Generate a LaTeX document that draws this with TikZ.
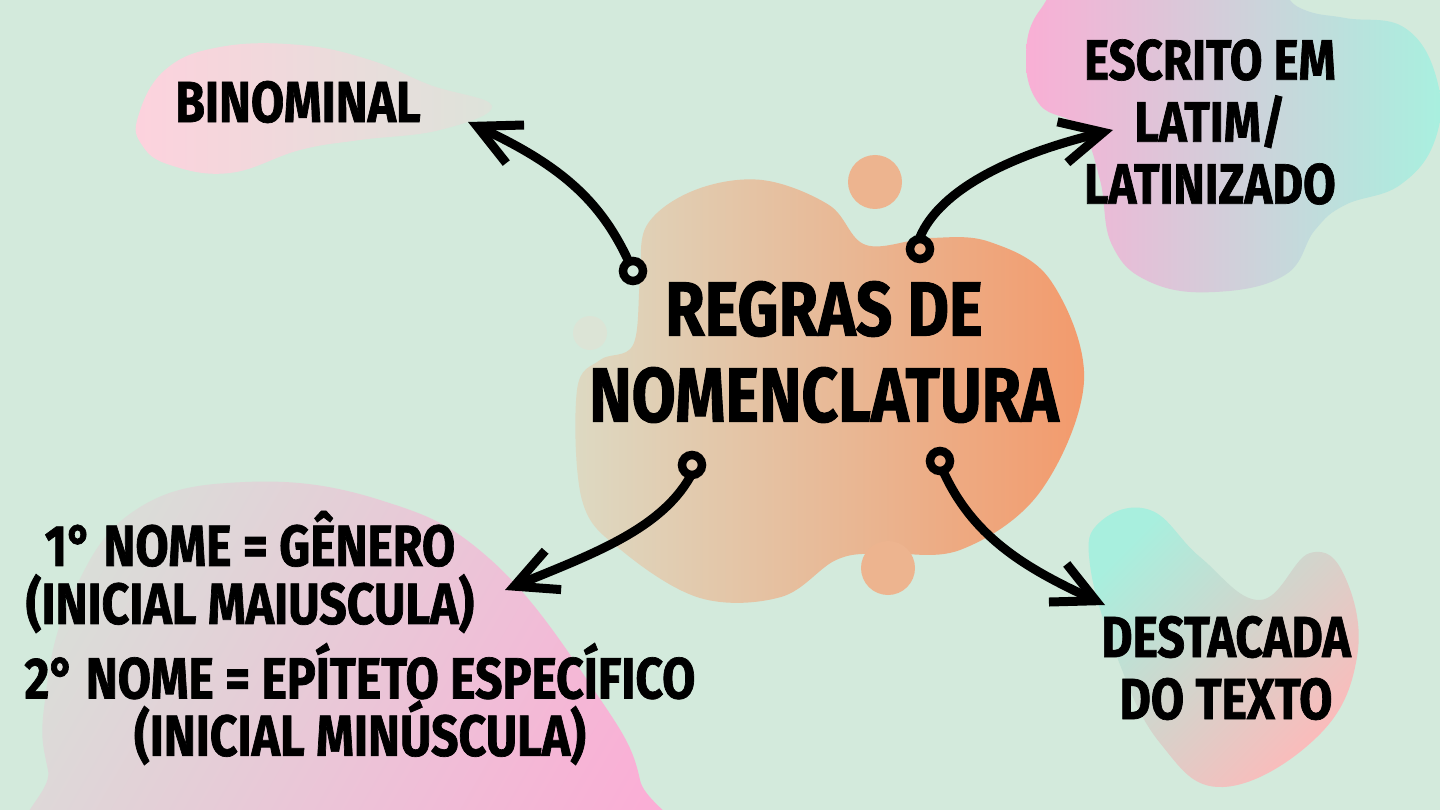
\documentclass[tikz,border=0pt]{standalone}
\usepackage{fontspec}
\newfontfamily\hand[FakeStretch=0.83,FakeBold=1.2]{Fira Sans}
\usetikzlibrary{arrows.meta}
\definecolor{bg}{HTML}{D3EADC}
\definecolor{cleft}{HTML}{DDD9C2}
\definecolor{cright}{HTML}{F39A6C}
\definecolor{peach}{HTML}{EDB48F}
\definecolor{faint}{HTML}{DCE4D6}
\definecolor{pinkA}{HTML}{FDD2DD}
\definecolor{grayA}{HTML}{DDE3DA}
\definecolor{pinkB}{HTML}{F9AFD5}
\definecolor{aquaB}{HTML}{A8F0DF}
\definecolor{aquaC}{HTML}{A8EFDE}
\definecolor{pinkC}{HTML}{FDBABA}
\definecolor{grayD}{HTML}{D8E0D8}
\definecolor{pinkD}{HTML}{FBAED6}
\tikzset{
  lbl/.style={font=\hand\bfseries, align=center, text=black, inner sep=0pt},
  conn/.style={line width=9pt, line cap=round, line join=round,
    -{Straight Barb[length=42pt,width=42pt,line width=9pt]}},
  curl/.style={line width=8.5pt}
}
\begin{document}
\begin{tikzpicture}[x=1pt,y=-1pt]
\useasboundingbox (0,0) rectangle (1440,810);
\clip (0,0) rectangle (1440,810);
\fill[bg] (0,0) rectangle (1440,810);

% blobs
\shade[left color=pinkA, right color=grayA]
  plot[smooth cycle, tension=0.7] coordinates {(138,117) (165,70) (220,47) (300,45) (370,60) (430,85) (492,106) (440,130) (360,140) (300,150) (230,173) (170,165) (142,145)};
\shade[left color=pinkB, right color=aquaB]
  plot[smooth cycle, tension=0.7] coordinates {(1026,60) (1040,10) (1090,-25) (1250,-25) (1300,8) (1345,18) (1405,28) (1437,80) (1435,140) (1400,185) (1345,205) (1315,230) (1285,275) (1215,292) (1150,282) (1112,245) (1100,180) (1080,128) (1040,105)};
\shade[left color=aquaC, right color=pinkC, shading angle=45]
  plot[smooth cycle, tension=0.7] coordinates {(1100,522) (1150,510) (1200,557) (1260,600) (1310,553) (1345,577) (1357,657) (1317,737) (1223,787) (1160,743) (1117,657) (1090,565)};
\shade[left color=grayD, right color=pinkD, shading angle=60]
  plot[smooth cycle, tension=0.7] coordinates {(45,700) (70,600) (134,511) (245,482) (380,500) (491,560) (594,690) (640,780) (630,860) (80,860) (48,770)};
\shade[left color=cleft, right color=cright]
  plot[smooth cycle, tension=0.6] coordinates {(577,390) (600,360) (633,345) (640,280) (647,225) (695,190) (762,180) (829,205) (866,245) (930,238) (990,242) (1051,281) (1084,381) (1040,492) (960,550) (880,553) (836,560) (781,597) (700,598) (621,550) (582,500)};
\fill[peach] (875,182) circle[radius=27];
\fill[peach] (888,568) circle[radius=27];
\fill[faint] (590,333) circle[radius=17];

% texts
\node[lbl, font=\hand\bfseries\fontsize{77}{86}\selectfont] (c) at (824,352) {REGRAS DE\\NOMENCLATURA};
\node[lbl, font=\hand\bfseries\fontsize{58}{62}\selectfont] (bin) at (298,102) {BINOMINAL};
\node[lbl, font=\hand\bfseries\fontsize{57}{62}\selectfont] (esc) at (1210,122) {ESCRITO EM\\LATIM/\\LATINIZADO};
\node[lbl, font=\hand\bfseries\fontsize{58}{58}\selectfont] (n1) at (250,572) {1° NOME = GÊNERO\\(INICIAL MAIUSCULA)};
\node[lbl, font=\hand\bfseries\fontsize{58}{56}\selectfont] (n2) at (360,704) {2° NOME = EPÍTETO ESPECÍFICO\\(INICIAL MINÚSCULA)};
\node[lbl, font=\hand\bfseries\fontsize{58}{62}\selectfont] (des) at (1226,668) {DESTACADA\\DO TEXTO};

% connector anchor points
\coordinate (l1) at (633,271);
\coordinate (l2) at (920,249);
\coordinate (l3) at (692,465);
\coordinate (l4) at (940,461);
\coordinate (t1) at (468,122);
\coordinate (t2) at (1113,130);
\coordinate (t3) at (505,590);
\coordinate (t4) at (1105,605);

\draw[curl] (l1) circle[radius=10];
\draw[curl] (l2) circle[radius=10];
\draw[curl] (l3) circle[radius=10];
\draw[curl] (l4) circle[radius=10];

\draw[conn] ([shift={(-5,-11)}]l1) .. controls (600,200) and (560,165) .. (t1);
\draw[conn] ([shift={(0,-12)}]l2) .. controls (940,190) and (1010,155) .. (t2);
\draw[conn] ([shift={(-2,12)}]l3) .. controls (660,530) and (590,555) .. (t3);
\draw[conn] ([shift={(4,12)}]l4) .. controls (975,540) and (1030,570) .. (t4);
\end{tikzpicture}
\end{document}
